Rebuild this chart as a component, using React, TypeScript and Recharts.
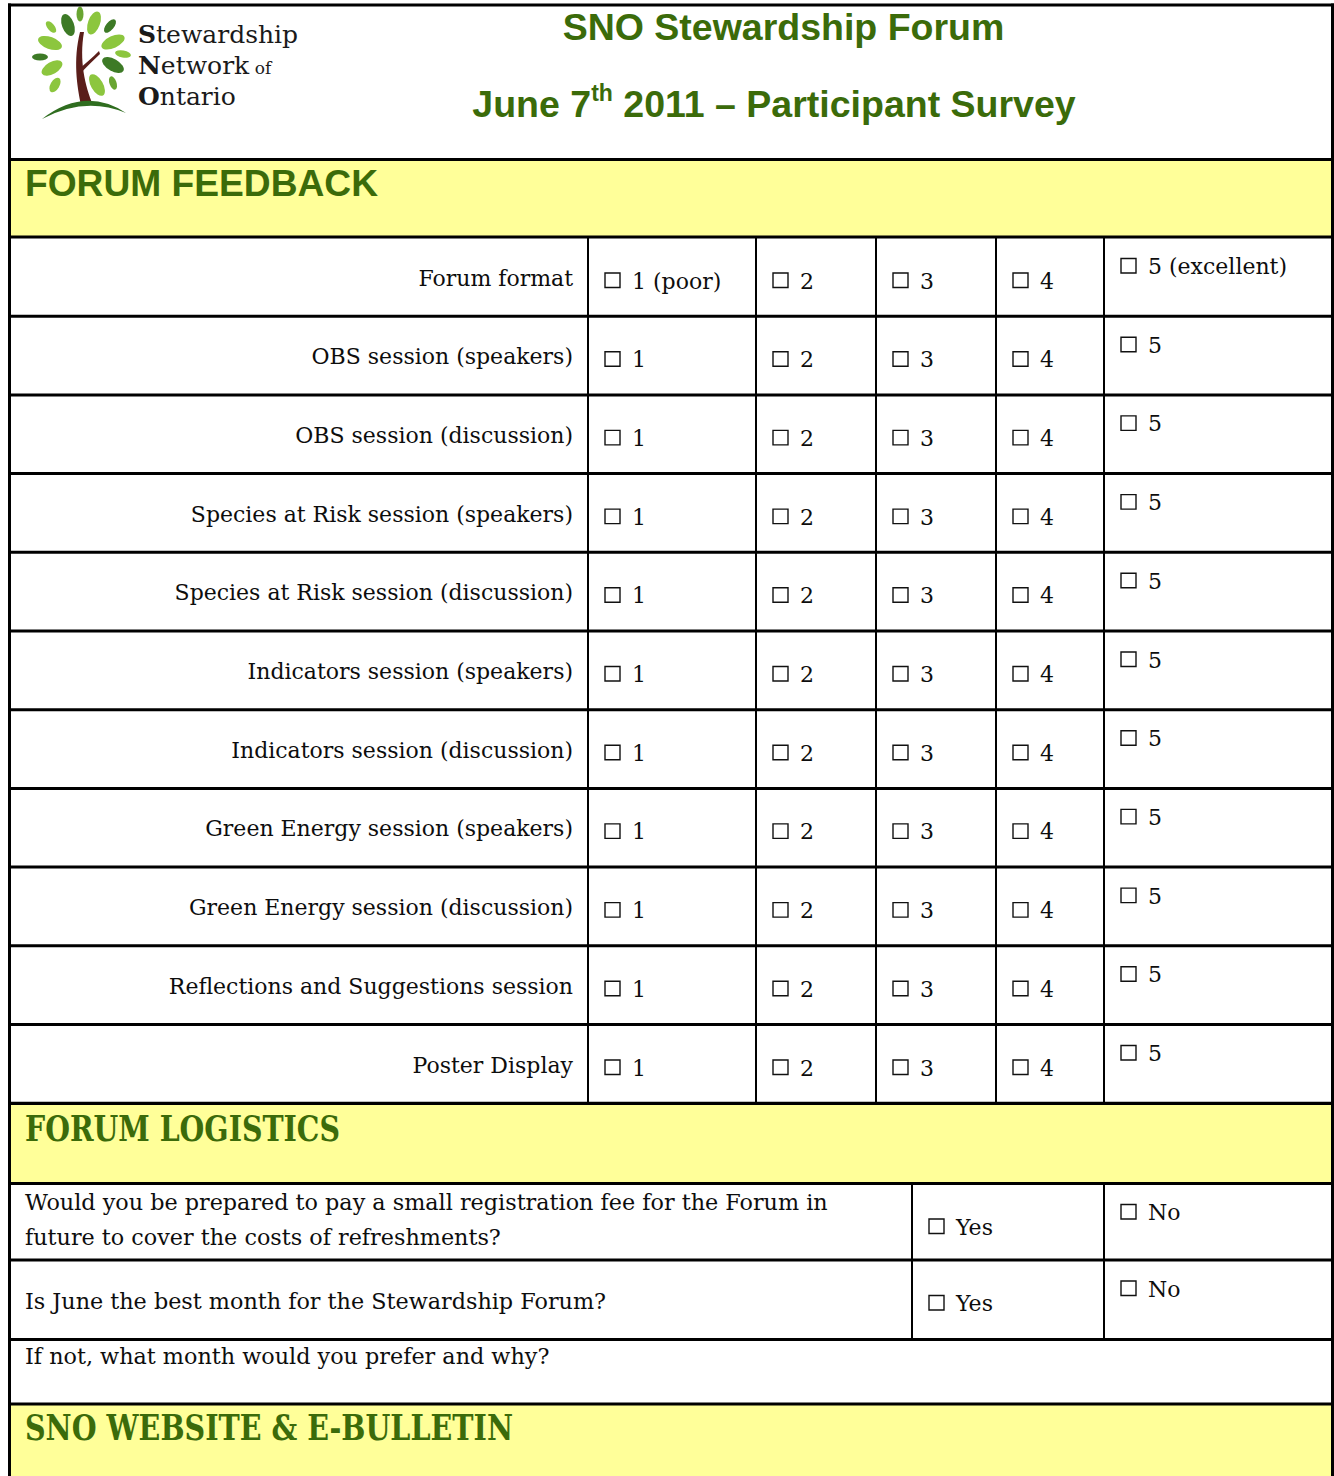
import React from 'react'
import { Surface, Layer, Rectangle, Text } from 'recharts'

const surveyTitle = 'SNO Stewardship Forum'
const surveyDate = ['June 7', 'th', ' 2011 – Participant Survey']
const logoLines = [
  ['S', 'tewardship', ''],
  ['N', 'etwork', ' of'],
  ['O', 'ntario', ''],
]
const sectionTitles = ['FORUM FEEDBACK', 'FORUM LOGISTICS', 'SNO WEBSITE & E-BULLETIN']
const feedbackSessions = [
  'Forum format',
  'OBS session (speakers)',
  'OBS session (discussion)',
  'Species at Risk session (speakers)',
  'Species at Risk session (discussion)',
  'Indicators session (speakers)',
  'Indicators session (discussion)',
  'Green Energy session (speakers)',
  'Green Energy session (discussion)',
  'Reflections and Suggestions session',
  'Poster Display',
]
const ratingScale = ['1', '2', '3', '4', '5']
const ratingEnds = ['(poor)', '', '', '', '(excellent)']
const logisticsQuestions = [
  ['Would you be prepared to pay a small registration fee for the Forum in', 'future to cover the costs of refreshments?'],
  ['Is June the best month for the Stewardship Forum?'],
]
const answerChoices = ['Yes', 'No']
const followUpQuestion = 'If not, what month would you prefer and why?'

const W = 1334
const H = 1476
const GREEN = '#3b6b0a'
const YELLOW = '#ffff99'
const INK = '#0d0d0d'
const SANS = '"Liberation Sans", Arial, sans-serif'
const SERIF = '"DejaVu Serif", serif'

const RATING_TOP = 237.5
const RATING_H = 78.7
const RATING_COLS = [588, 756, 876, 996, 1104]
const LOG_TOP = [1183.5, 1260]
const LOG_COLS = [912, 1104]

function HLine({ y, x1 = 8, x2 = 1334, w = 3 }: { y: number; x1?: number; x2?: number; w?: number }) {
  return <Rectangle x={x1} y={y - w / 2} width={x2 - x1} height={w} fill="#000" />
}

function VLine({ x, y1, y2, w = 2 }: { x: number; y1: number; y2: number; w?: number }) {
  return <Rectangle x={x - w / 2} y={y1} width={w} height={y2 - y1} fill="#000" />
}

function Check({ x, base, label }: { x: number; base: number; label: string }) {
  return (
    <Layer>
      <Rectangle x={x} y={base - 15.5} width={15} height={14.5} fill="none" stroke="#111" strokeWidth={1.4} />
      <Text x={x + 27} y={base} fontFamily={SERIF} fontSize={22} fill={INK}>
        {label}
      </Text>
    </Layer>
  )
}

function Logo() {
  const light = '#8cc63e'
  const mid = '#69a532'
  const dark = '#3d7a26'
  // cx, cy, rx, ry, rotation, colour
  const leaves: [number, number, number, number, number, string][] = [
    [80, 14, 3.5, 7.5, 0, mid],
    [68, 25, 6, 11.5, -20, dark],
    [94, 23, 6, 12, 20, light],
    [110, 26, 4, 8, 40, dark],
    [51, 27, 3.5, 7, -40, light],
    [50, 43, 12.5, 6, 20, light],
    [113, 42, 12.5, 6, -25, light],
    [40, 57, 8, 3.5, 0, dark],
    [123, 54, 8, 3.5, 10, light],
    [52, 68, 11.5, 6, -30, light],
    [113, 65, 12, 6, 30, dark],
    [55, 85, 4.5, 8, 30, light],
    [97, 85, 6, 12, -30, light],
    [113, 83, 3.5, 7, -20, mid],
  ]
  return (
    <Layer>
      {leaves.map(([cx, cy, rx, ry, r, c], i) => (
        <ellipse key={i} cx={cx} cy={cy} rx={rx} ry={ry} fill={c} transform={`rotate(${r} ${cx} ${cy})`} />
      ))}
      <path d="M81,105 C77,86 73,60 80,32 L84,32 C79,60 85,86 93,105 Z" fill="#5a1e1a" />
      <path d="M78,70 C86,63 92,58 99,51 L100,54 C93,61 86,67 80,74 Z" fill="#5a1e1a" />
      <path d="M42,119 Q85,86 126,113 Q85,96 42,119 Z" fill="#2f6d1f" />
      {logoLines.map((ln, i) => (
        <text key={i} x={138} y={43 + i * 31} fontFamily={SERIF} fontSize={25} fill="#1a1a1a">
          <tspan fontWeight="bold">{ln[0]}</tspan>
          <tspan>{ln[1]}</tspan>
          {ln[2] && <tspan fontSize={17}>{ln[2]}</tspan>}
        </text>
      ))}
    </Layer>
  )
}

export default function App() {
  return (
    <div style={{ position: 'absolute', left: 0, top: 0, width: W, height: H, background: '#fff' }}>
      <Surface width={W} height={H} viewBox={{ x: 0, y: 0, width: W, height: H }}>
        {/* yellow section bands */}
        <Rectangle x={10} y={159} width={1322} height={78} fill={YELLOW} />
        <Rectangle x={10} y={1103.5} width={1322} height={80} fill={YELLOW} />
        <Rectangle x={10} y={1404} width={1322} height={72} fill={YELLOW} />

        <Logo />
        <Text x={783.5} y={40} textAnchor="middle" fontFamily={SANS} fontWeight="bold" fontSize={37.5} fill={GREEN}>
          {surveyTitle}
        </Text>
        <text x={774} y={117} textAnchor="middle" fontFamily={SANS} fontWeight="bold" fontSize={37.5} fill={GREEN}>
          {surveyDate[0]}
          <tspan dy={-16} fontSize={23}>{surveyDate[1]}</tspan>
          <tspan dy={16}>{surveyDate[2]}</tspan>
        </text>

        <Text x={25} y={196} fontFamily={SANS} fontWeight="bold" fontSize={36} fill={GREEN} textLength={353} lengthAdjust="spacingAndGlyphs">
          {sectionTitles[0]}
        </Text>
        <Text x={25} y={1141} fontFamily={SERIF} fontWeight="bold" fontSize={35} fill={GREEN} textLength={315} lengthAdjust="spacingAndGlyphs">
          {sectionTitles[1]}
        </Text>
        <Text x={25} y={1440} fontFamily={SERIF} fontWeight="bold" fontSize={35} fill={GREEN} textLength={488} lengthAdjust="spacingAndGlyphs">
          {sectionTitles[2]}
        </Text>

        {/* rating rows */}
        {feedbackSessions.map((s, r) => {
          const top = RATING_TOP + r * RATING_H
          return (
            <Layer key={s}>
              <Text x={573} y={top + 48} textAnchor="end" fontFamily={SERIF} fontSize={22} fill={INK}>
                {s}
              </Text>
              {ratingScale.map((v, c) => (
                <Check
                  key={v}
                  x={RATING_COLS[c] + 17}
                  base={top + (c === ratingScale.length - 1 ? 36.5 : 51)}
                  label={r === 0 && ratingEnds[c] ? `${v} ${ratingEnds[c]}` : v}
                />
              ))}
            </Layer>
          )
        })}
        {feedbackSessions.map((s, r) => (
          <HLine key={s} y={RATING_TOP + (r + 1) * RATING_H} />
        ))}
        {RATING_COLS.map((x) => (
          <VLine key={x} x={x} y1={RATING_TOP} y2={RATING_TOP + feedbackSessions.length * RATING_H} />
        ))}

        {/* logistics */}
        {logisticsQuestions.map((q, i) => {
          const top = LOG_TOP[i]
          const first = q.length > 1 ? top + 26 : top + 49
          return (
            <Layer key={i}>
              {q.map((ln, k) => (
                <Text key={k} x={25} y={first + k * 35} fontFamily={SERIF} fontSize={22.3} fill={INK}>
                  {ln}
                </Text>
              ))}
              {answerChoices.map((a, c) => (
                <Check key={a} x={LOG_COLS[c] + 17} base={top + (c === 0 ? 51 : 36.5)} label={a} />
              ))}
              <HLine y={top + (i === 0 ? 76.5 : 79.5)} />
            </Layer>
          )
        })}
        {LOG_COLS.map((x) => (
          <VLine key={x} x={x} y1={LOG_TOP[0]} y2={1339.5} />
        ))}
        <Text x={25} y={1364} fontFamily={SERIF} fontSize={22.3} fill={INK}>
          {followUpQuestion}
        </Text>

        {/* frame lines */}
        <HLine y={5} />
        <HLine y={159.5} />
        <HLine y={237} />
        <HLine y={1103.5} />
        <HLine y={1183.5} />
        <HLine y={1404} />
        <VLine x={9.5} y1={3.5} y2={H} w={3} />
        <VLine x={1332.5} y1={3.5} y2={H} w={3} />
      </Surface>
    </div>
  )
}
